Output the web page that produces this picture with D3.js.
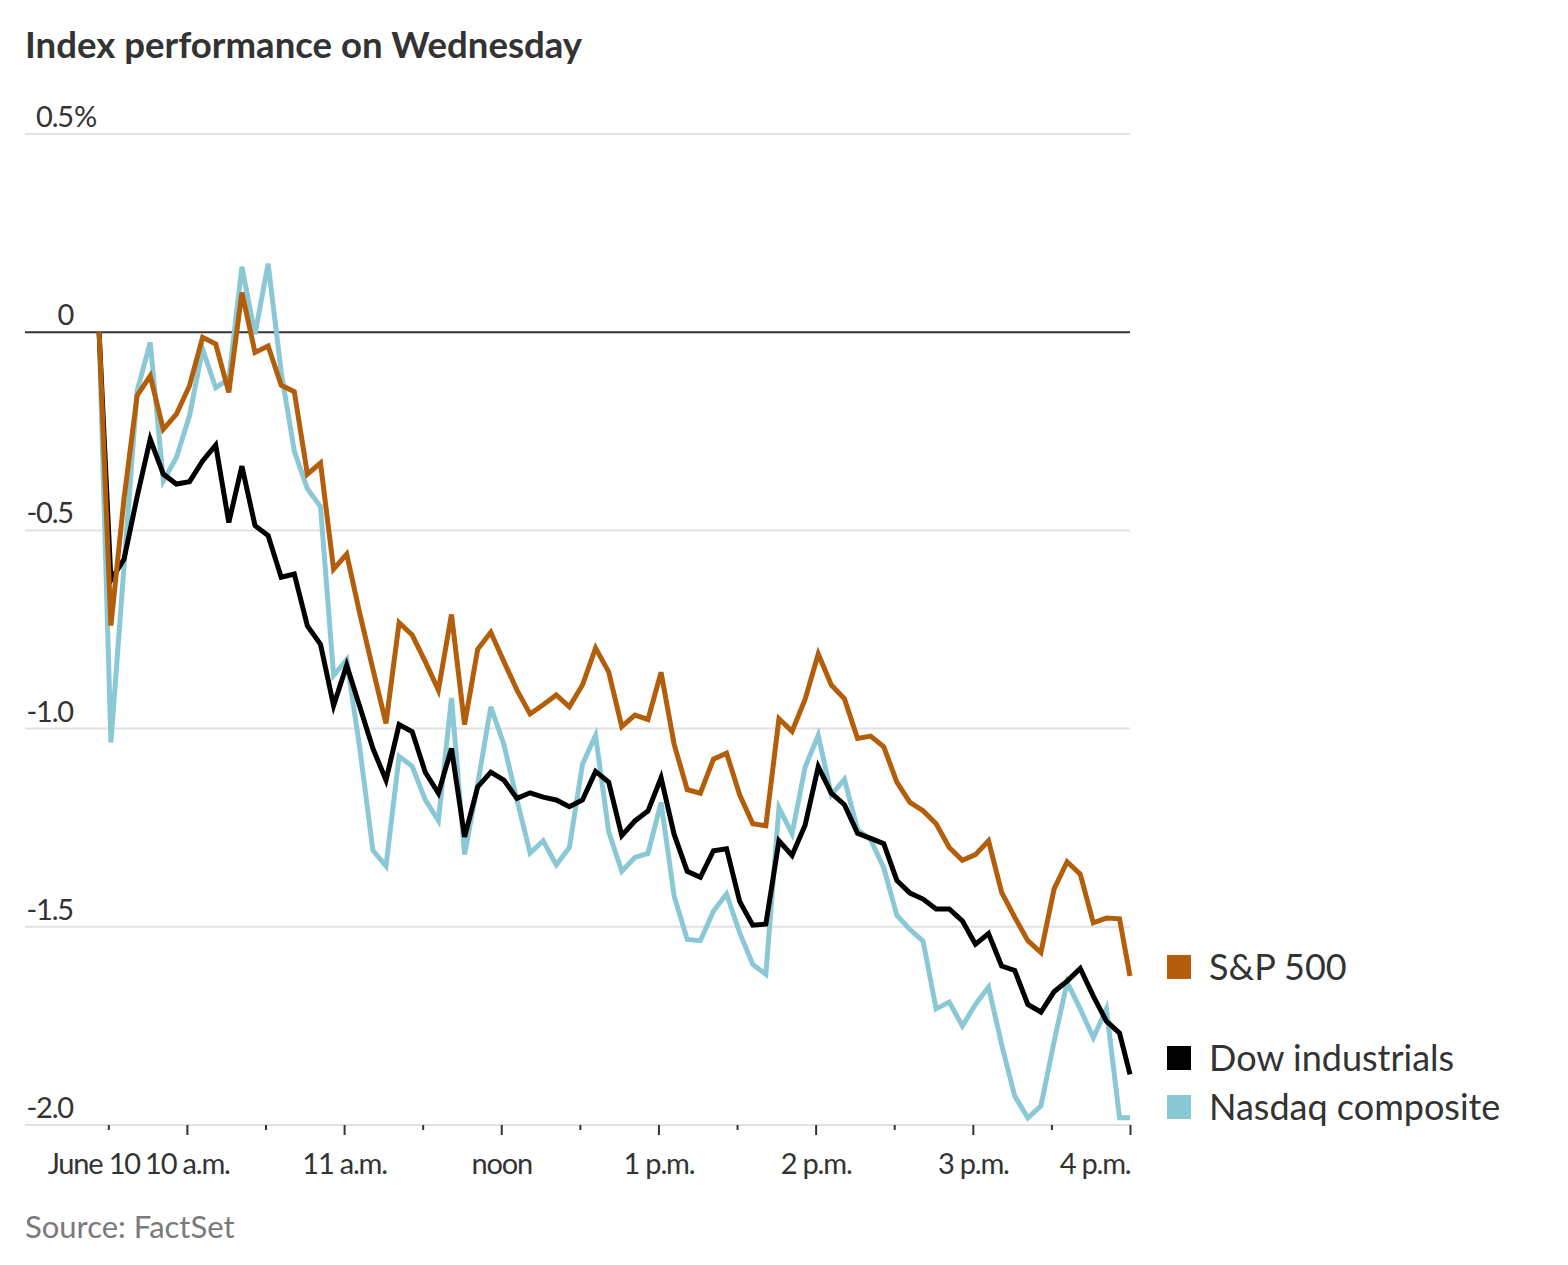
<!DOCTYPE html>
<html lang="en">
<head>
<meta charset="UTF-8">
<title>Index performance on Wednesday</title>
<script src="https://d3js.org/d3.v7.min.js"></script>
<style>
    body {
        margin: 0;
        background: #ffffff;
    }
    .title {
        font-family: 'Lato', sans-serif;
        font-weight: bold;
        font-size: 36.6px;
        fill: #333333;
    }
    .narrow {
        font-family: 'Lato', sans-serif;
        font-size: 29px;
        letter-spacing: -1.2px;
        fill: #333333;
    }
    .legend text {
        font-family: 'Lato', sans-serif;
        font-size: 36px;
        fill: #333333;
    }
    .source {
        font-family: 'Lato', sans-serif;
        font-size: 31px;
        fill: #7a7a7a;
    }
</style>
</head>
<body>
<svg id="chart"></svg>
<script>
    // minutes after 9:30 a.m.; first point is the previous close, last is the 4 p.m. close
    const minutes = [-3.5].concat(d3.range(1, 390, 5), [390]);

    const seriesNames = ["S&P 500", "Dow industrials", "Nasdaq composite"];
    const seriesColors = ["#b35e0b", "#000000", "#8bc8d5"];

    const sp500 = [0,
        -0.74, -0.42, -0.16, -0.11, -0.245, -0.207, -0.135, -0.013, -0.03, -0.152,
        0.10, -0.051, -0.035, -0.134, -0.15, -0.358, -0.33, -0.598, -0.56, -0.71,
        -0.85, -0.987, -0.733, -0.764, -0.831, -0.903, -0.712, -0.99, -0.80, -0.757,
        -0.831, -0.903, -0.963, -0.94, -0.915, -0.945, -0.89, -0.797, -0.857, -0.995,
        -0.966, -0.977, -0.858, -1.04, -1.154, -1.163, -1.077, -1.062, -1.167, -1.24,
        -1.245, -0.975, -1.007, -0.926, -0.812, -0.89, -0.925, -1.025, -1.019, -1.046,
        -1.135, -1.186, -1.207, -1.24, -1.30, -1.332, -1.318, -1.283, -1.413, -1.476,
        -1.535, -1.565, -1.405, -1.336, -1.367, -1.49, -1.478, -1.48, -1.624];

    const dow = [0,
        -0.625, -0.573, -0.415, -0.27, -0.358, -0.383, -0.377, -0.325, -0.285, -0.48,
        -0.338, -0.488, -0.513, -0.618, -0.61, -0.741, -0.787, -0.942, -0.84, -0.945,
        -1.05, -1.13, -0.99, -1.008, -1.11, -1.163, -1.05, -1.273, -1.147, -1.11,
        -1.13, -1.176, -1.162, -1.173, -1.18, -1.197, -1.18, -1.108, -1.135, -1.27,
        -1.233, -1.208, -1.124, -1.267, -1.36, -1.375, -1.308, -1.303, -1.436, -1.496,
        -1.493, -1.283, -1.32, -1.243, -1.096, -1.163, -1.192, -1.264, -1.277, -1.29,
        -1.383, -1.415, -1.43, -1.455, -1.455, -1.485, -1.544, -1.517, -1.599, -1.61,
        -1.696, -1.715, -1.664, -1.637, -1.605, -1.675, -1.738, -1.768, -1.872];

    const nasdaq = [0,
        -1.035, -0.59, -0.148, -0.026, -0.375, -0.316, -0.211, -0.043, -0.14, -0.118,
        0.165, -0.005, 0.173, -0.10, -0.30, -0.395, -0.44, -0.866, -0.826, -1.05,
        -1.307, -1.347, -1.07, -1.095, -1.18, -1.232, -0.923, -1.318, -1.14, -0.945,
        -1.04, -1.18, -1.314, -1.283, -1.344, -1.30, -1.09, -1.017, -1.26, -1.36,
        -1.325, -1.315, -1.186, -1.423, -1.532, -1.535, -1.46, -1.417, -1.515, -1.595,
        -1.62, -1.20, -1.265, -1.097, -1.017, -1.167, -1.128, -1.255, -1.28, -1.351,
        -1.471, -1.507, -1.536, -1.707, -1.69, -1.75, -1.696, -1.652, -1.797, -1.927,
        -1.982, -1.952, -1.79, -1.64, -1.707, -1.78, -1.707, -1.982, -1.982];

    const yTicks = [0.5, 0, -0.5, -1.0, -1.5, -2.0];
    const yTickLabels = ["0.5", "0", "-0.5", "-1.0", "-1.5", "-2.0"];
    const xTicks = d3.range(0, 391, 30);
    const xLabelMinutes = [0, 30, 90, 150, 210, 270, 330, 390];
    const xLabels = ["June 10", "10 a.m.", "11 a.m.", "noon", "1 p.m.", "2 p.m.", "3 p.m.", "4 p.m."];

    const width = 1568, height = 1265;
    const svg = d3.select("#chart").attr("width", width).attr("height", height);

    const x = d3.scaleLinear().domain([0, 390]).range([108.3, 1130]);
    const y = d3.scaleLinear().domain([0.5, -2.0]).range([134, 1125]);
    const gridLeft = 25;

    svg.append("text").attr("class", "title")
        .attr("x", 25).attr("y", 58)
        .text("Index performance on Wednesday");

    // gridlines
    svg.append("g").selectAll("line")
        .data(yTicks)
        .join("line")
        .attr("x1", gridLeft).attr("x2", x(390))
        .attr("y1", d => y(d)).attr("y2", d => y(d))
        .attr("stroke", d => d === 0 ? "#333333" : "#e2e2e2")
        .attr("stroke-width", 2);

    // y labels
    const yl = svg.append("g").attr("class", "narrow");
    yl.selectAll("text")
        .data(yTicks)
        .join("text")
        .attr("x", 73)
        .attr("y", d => y(d) - 7)
        .attr("text-anchor", "end")
        .text((d, i) => yTickLabels[i]);
    yl.append("text")
        .attr("x", 74).attr("y", y(0.5) - 7)
        .text("%");

    // x axis
    const xAxis = d3.axisBottom(x)
        .tickValues(xTicks)
        .tickSize(10)
        .tickFormat(d => {
            const k = xLabelMinutes.indexOf(d);
            return k >= 0 ? xLabels[k] : "";
        });

    const gx = svg.append("g")
        .attr("transform", `translate(0,${y(-2.0)})`)
        .call(xAxis);
    gx.select(".domain").remove();
    gx.selectAll(".tick line")
        .attr("stroke", "#333333")
        .attr("stroke-width", 2)
        .attr("y2", d => d % 60 === 30 ? 10 : 5);
    gx.selectAll(".tick text")
        .attr("class", "narrow")
        .attr("font-family", null)
        .attr("font-size", null)
        .attr("fill", null)
        .attr("y", 28)
        .attr("dy", "0.71em")
        .attr("text-anchor", d => d === 390 ? "end" : "middle")
        .attr("dx", d => d === 0 ? -15 : 0);

    // lines
    const line = d3.line()
        .x((d, i) => x(minutes[i]))
        .y(d => y(d));

    const allSeries = [sp500, dow, nasdaq];
    const drawOrder = [2, 1, 0];
    svg.append("g").selectAll("path")
        .data(drawOrder)
        .join("path")
        .attr("d", k => line(allSeries[k]))
        .attr("fill", "none")
        .attr("stroke", k => seriesColors[k])
        .attr("stroke-width", 5)
        .attr("stroke-linejoin", "miter");

    // legend at line ends, pushed apart
    const bottomLimit = y(-2.0) - 18;
    const minGap = 49;
    const labelY = [];
    [2, 1, 0].forEach(k => {
        const series = allSeries[k];
        let ly = Math.min(y(series[series.length - 1]) - 9, bottomLimit);
        if (labelY.length) ly = Math.min(ly, labelY[labelY.length - 1].y - minGap);
        labelY.push({k: k, y: ly});
    });

    const legend = svg.append("g").attr("class", "legend")
        .selectAll("g")
        .data(labelY)
        .join("g")
        .attr("transform", d => `translate(1167,${d.y})`);
    legend.append("rect")
        .attr("x", 0).attr("y", -12)
        .attr("width", 24).attr("height", 24)
        .attr("fill", d => seriesColors[d.k]);
    legend.append("text")
        .attr("x", 42).attr("y", 0)
        .attr("dy", "0.36em")
        .text(d => seriesNames[d.k]);

    svg.append("text").attr("class", "source")
        .attr("x", 25).attr("y", 1238)
        .text("Source: FactSet");
</script>
</body>
</html>
